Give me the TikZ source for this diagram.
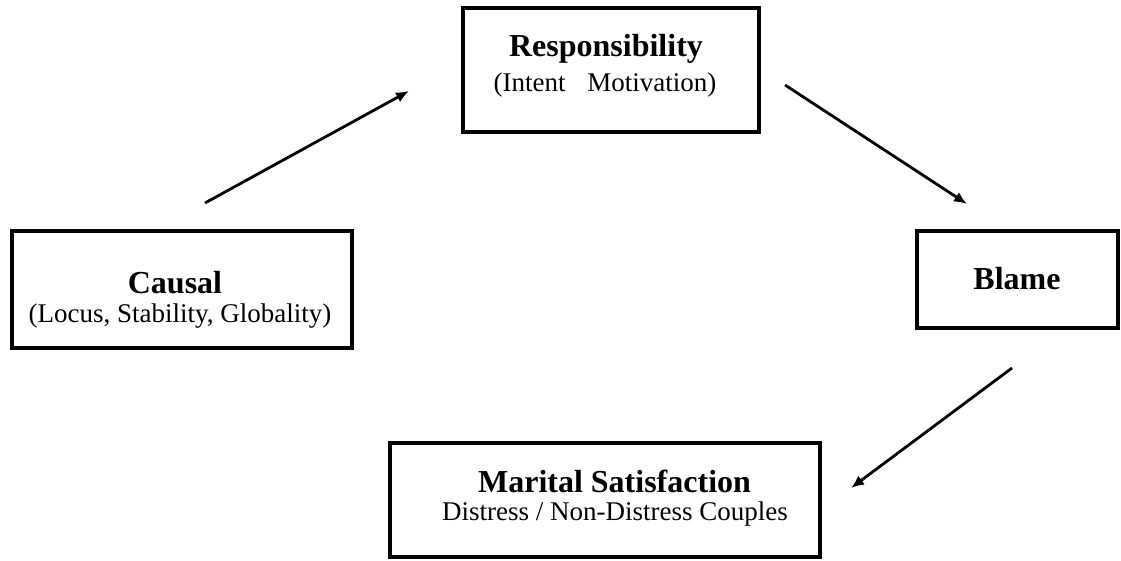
\documentclass[tikz,border=0pt]{standalone}
\usepackage{fontspec}
\setmainfont{Liberation Serif}
\usetikzlibrary{arrows.meta}
\begin{document}
\begin{tikzpicture}[x=1pt,y=-1pt,
  box/.style={draw=black,line width=3.2pt,rectangle,inner sep=0pt},
  title/.style={anchor=base,inner sep=0pt,font=\fontsize{32}{36}\selectfont\bfseries},
  sub/.style={anchor=base,inner sep=0pt,font=\fontsize{27}{32}\selectfont},
  link/.style={line width=2.8pt,-{Latex[length=13pt,width=11pt]}}]
\useasboundingbox (0,0) rectangle (1121,561);

% boxes
\node[box,minimum width=296pt,minimum height=124pt] (resp) at (611,70) {};
\node[box,minimum width=340pt,minimum height=117pt] (caus) at (182,289.5) {};
\node[box,minimum width=201pt,minimum height=97pt] (blame) at (1017.5,279.5) {};
\node[box,minimum width=430pt,minimum height=114pt] (marit) at (605,500) {};

% labels
\node[title] (respT) at (606,57) {Responsibility};
\node[sub] (respS) at (605,92) {(Intent\hspace{0.8em}Motivation)};
\node[title] (causT) at (175,293) {Causal};
\node[sub] (causS) at (180,322) {(Locus, Stability, Globality)};
\node[title] (blameT) at (1017,290) {Blame};
\node[title] (maritT) at (614.5,492) {Marital Satisfaction};
\node[sub] (maritS) at (615,520) {Distress / Non-Distress Couples};

% arrow ends
\coordinate (c1) at (205,203);
\coordinate (r1) at (409,91);
\coordinate (r2) at (785,85);
\coordinate (b1) at (967,204);
\coordinate (b2) at (1012,368);
\coordinate (m1) at (851,488);

\draw[link] (c1) -- (r1);
\draw[link] (r2) -- (b1);
\draw[link] (b2) -- (m1);
\end{tikzpicture}
\end{document}
